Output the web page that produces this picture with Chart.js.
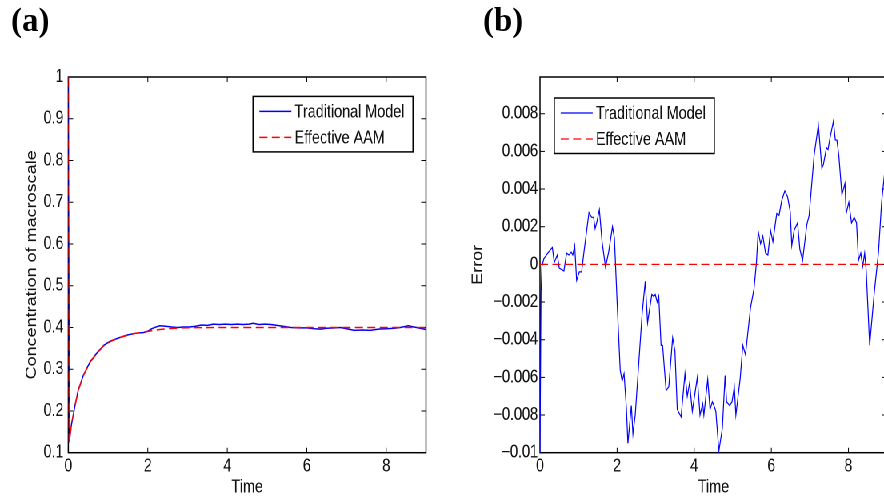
<!DOCTYPE html>
<html>
<head>
<meta charset="utf-8">
<script src="https://cdn.jsdelivr.net/npm/chart.js@4.4.1/dist/chart.umd.min.js"></script>
<style>
html, body { margin: 0; padding: 0; background: #fff; overflow: hidden; width: 884px; height: 502px; }
#fig { position: absolute; left: 0; top: 0; width: 1130px; height: 502px; transform: scaleX(0.8); transform-origin: 0 0; }
#fig canvas { position: absolute; top: 0; }
.tag { position: absolute; top: 4px; font: bold 33px 'Liberation Serif', 'Times New Roman', serif; line-height: 32px; color: #000; }
</style>
</head>
<body>
<div id="fig">
  <canvas id="concChart" width="552" height="502" style="left:0px"></canvas>
  <canvas id="errChart" width="578" height="502" style="left:552px"></canvas>
</div>
<div class="tag" style="left:11px">(a)</div>
<div class="tag" style="left:483px">(b)</div>
<script>
// panel (a): concentration of macroscale vs time
var tradT = [0, 0.025, 0.08, 0.17, 0.25, 0.38, 0.55, 0.72, 0.89, 1.05, 1.27, 1.48, 1.69, 1.9, 2.0, 2.1, 2.2, 2.3,
  2.45, 2.6, 2.75, 2.9, 3.05, 3.2, 3.35, 3.5, 3.65, 3.8, 3.95, 4.1, 4.25, 4.4, 4.55, 4.65, 4.8, 4.95, 5.1, 5.25,
  5.4, 5.6, 5.8, 6.0, 6.2, 6.35, 6.5, 6.7, 6.85, 7.0, 7.2, 7.4, 7.6, 7.8, 8.0, 8.2, 8.35, 8.5, 8.55, 8.7, 8.85, 9.0];
var tradC = [1, 0.126, 0.168, 0.214, 0.25, 0.286, 0.318, 0.339, 0.357, 0.367, 0.375, 0.382, 0.386, 0.388, 0.391, 0.397, 0.401, 0.404,
  0.403, 0.401, 0.400, 0.401, 0.401, 0.403, 0.406, 0.405, 0.408, 0.407, 0.408, 0.407, 0.408, 0.407, 0.408, 0.410, 0.407, 0.408, 0.407, 0.405,
  0.403, 0.400, 0.399, 0.399, 0.397, 0.396, 0.398, 0.399, 0.400, 0.397, 0.393, 0.394, 0.393, 0.396, 0.397, 0.398, 0.400, 0.403, 0.404, 0.401, 0.398, 0.395];
var aamT = [0, 0.02, 0.08, 0.17, 0.25, 0.38, 0.55, 0.72, 0.89, 1.05, 1.27, 1.48, 1.69, 1.9, 2.1, 2.3, 2.5, 2.8, 3.2, 4, 5, 6, 7, 8, 9];
var aamC = [1, 0.125, 0.168, 0.213, 0.249, 0.285, 0.317, 0.338, 0.356, 0.366, 0.375, 0.381, 0.386, 0.389, 0.392, 0.395, 0.397, 0.399, 0.3995, 0.4, 0.4, 0.4, 0.4, 0.4, 0.4];

// panel (b): error vs time
var errT = [0, 0.026, 0.05, 0.1, 0.22, 0.32, 0.37, 0.45, 0.5, 0.62, 0.69, 0.75, 0.81, 0.85, 0.9, 0.95, 1.02, 1.08, 1.14,
  1.27, 1.34, 1.39, 1.43, 1.48, 1.54, 1.61, 1.7, 1.78, 1.88, 1.93, 2.0, 2.08, 2.13, 2.18, 2.24, 2.28, 2.37, 2.41, 2.47,
  2.65, 2.73, 2.79, 2.9, 2.95, 2.99, 3.04, 3.08, 3.14, 3.18, 3.27, 3.34, 3.44, 3.5, 3.56, 3.66, 3.76, 3.82, 3.88, 3.95,
  4.08, 4.15, 4.22, 4.25, 4.35, 4.41, 4.47, 4.53, 4.56, 4.64, 4.73, 4.8, 4.84, 4.92, 4.98, 5.04, 5.08, 5.19, 5.26, 5.33,
  5.46, 5.55, 5.61, 5.66, 5.72, 5.78, 5.85, 5.91, 5.98, 6.04, 6.14, 6.2, 6.27, 6.35, 6.42, 6.49, 6.53, 6.59, 6.68, 6.74,
  6.81, 6.92, 6.98, 7.11, 7.22, 7.31, 7.35, 7.43, 7.47, 7.52, 7.61, 7.66, 7.7, 7.75, 7.83, 7.91, 7.94, 8.01, 8.08, 8.15,
  8.21, 8.26, 8.32, 8.37, 8.42, 8.46, 8.55, 8.67, 8.78, 8.86, 8.95, 9.0];
var errV = [-0.0100, -0.0015, -0.0001, 0.0003, 0.00065, 0.0009, 0.0001, 0.0005, -0.0002, -0.00035, 0.0006, 0.0005, 0.00065, 0.0005, 0.001, -0.00085, -0.0004, -0.0004, 0.00065,
  0.00275, 0.0025, 0.0025, 0.0019, 0.0023, 0.0029, 0.0012, -0.00015, 0.00065, 0.002, 0.0014, -0.002, -0.0056, -0.0062, -0.0058, -0.0076, -0.0095, -0.0075, -0.009, -0.008,
  -0.0026, -0.0009, -0.0031, -0.0016, -0.0017, -0.0016, -0.002, -0.0017, -0.0043, -0.0043, -0.0067, -0.0065, -0.0039, -0.0046, -0.0077, -0.0081, -0.0058, -0.007, -0.0063, -0.0078,
  -0.006, -0.008, -0.0074, -0.008, -0.0061, -0.0077, -0.0073, -0.0076, -0.0078, -0.0099, -0.0087, -0.0059, -0.0073, -0.0075, -0.0073, -0.0065, -0.008, -0.0061, -0.0043, -0.0048,
  -0.0023, -0.0013, 0.0, 0.00175, 0.0011, 0.0015, 0.0006, 0.0005, 0.0018, 0.0012, 0.0027, 0.0026, 0.0034, 0.0039, 0.0036, 0.0028, 0.001, 0.0018, 0.0022, 0.0008,
  0.0002, 0.0021, 0.0026, 0.0058, 0.0074, 0.0051, 0.0053, 0.0062, 0.0061, 0.0067, 0.0076, 0.0066, 0.0066, 0.0058, 0.0037, 0.0043, 0.0027, 0.0033, 0.0022, 0.0025,
  0.0022, 0.0002, 0.0006, -0.0001, 0.0006, -0.0003, -0.0043, -0.0015, 0.00065, 0.0033, 0.0051, 0.0056];
var zeroT = [0, 9];
var zeroV = [0, 0];

var seriesNames = ['Traditional Model', 'Effective AAM'];
var timeTicks = [0, 2, 4, 6, 8];
var timeTickLabels = ['0', '2', '4', '6', '8'];
var concTicks = [0.1, 0.2, 0.3, 0.4, 0.5, 0.6, 0.7, 0.8, 0.9, 1];
var concTickLabels = ['0.1', '0.2', '0.3', '0.4', '0.5', '0.6', '0.7', '0.8', '0.9', '1'];
var errTicks = [-0.01, -0.008, -0.006, -0.004, -0.002, 0, 0.002, 0.004, 0.006, 0.008];
var errTickLabels = ['\u22120.01', '\u22120.008', '\u22120.006', '\u22120.004', '\u22120.002', '0', '0.002', '0.004', '0.006', '0.008'];

var FONT = {family: "'Liberation Sans', Arial, sans-serif", size: 18};
var INK = '#111';

function pts(t, v) {
    return t.map(function (x, i) { return {x: x, y: v[i]}; });
}

function setTicks(values) {
    return function (scale) {
        scale.ticks = values.map(function (v) { return {value: v}; });
    };
}

// matlab style box with inward ticks + legend inside the axes
var framePlugin = {
    id: 'frame',
    beforeDatasetsDraw: function (chart) {
        var ctx = chart.ctx, a = chart.chartArea;
        var x = chart.scales.x, y = chart.scales.y;
        ctx.save();
        ctx.strokeStyle = '#000';
        ctx.lineWidth = 1.5;
        ctx.strokeRect(a.left, a.top, a.right - a.left, a.bottom - a.top);
        ctx.lineWidth = 1;
        ctx.beginPath();
        x.ticks.forEach(function (t) {
            var px = x.getPixelForValue(t.value);
            ctx.moveTo(px, a.bottom); ctx.lineTo(px, a.bottom - 5);
            ctx.moveTo(px, a.top); ctx.lineTo(px, a.top + 5);
        });
        y.ticks.forEach(function (t) {
            var py = y.getPixelForValue(t.value);
            ctx.moveTo(a.left, py); ctx.lineTo(a.left + 6, py);
            ctx.moveTo(a.right, py); ctx.lineTo(a.right - 6, py);
        });
        ctx.stroke();
        ctx.restore();
    },
    afterDraw: function (chart, args, opts) {
        var ctx = chart.ctx, a = chart.chartArea;
        var w = 200, h = 55.5;
        var bx = opts.side === 'right' ? a.right - opts.dx - w : a.left + opts.dx;
        var by = a.top + opts.dy;
        ctx.save();
        ctx.fillStyle = '#fff';
        ctx.fillRect(bx, by, w, h);
        ctx.strokeStyle = '#000';
        ctx.lineWidth = 1.5;
        ctx.strokeRect(bx, by, w, h);
        ctx.font = FONT.size + 'px ' + FONT.family;
        ctx.textBaseline = 'middle';
        ctx.textAlign = 'left';
        chart.data.datasets.forEach(function (ds, i) {
            var ly = by + 15 + i * 26;
            ctx.strokeStyle = ds.borderColor;
            ctx.lineWidth = ds.borderWidth;
            ctx.setLineDash(ds.borderDash || []);
            ctx.beginPath();
            ctx.moveTo(bx + 8, ly);
            ctx.lineTo(bx + 48, ly);
            ctx.stroke();
            ctx.setLineDash([]);
            ctx.fillStyle = INK;
            ctx.fillText(ds.label, bx + 52, ly + 1);
        });
        ctx.restore();
    }
};

function makeChart(id, datasets, yCfg, frameOpts, yWidth, padRight, yTitlePad) {
    return new Chart(document.getElementById(id), {
        type: 'line',
        data: {datasets: datasets},
        plugins: [framePlugin],
        options: {
            responsive: false,
            animation: false,
            devicePixelRatio: 2,
            layout: {padding: {top: 77, right: padRight, bottom: 0, left: 0}},
            elements: {point: {radius: 0}, line: {tension: 0}},
            plugins: {legend: {display: false}, tooltip: {enabled: false}, frame: frameOpts},
            scales: {
                x: {
                    type: 'linear', min: 0, max: 9,
                    afterBuildTicks: setTicks(timeTicks),
                    afterFit: function (s) { s.height = 49.3; },
                    grid: {display: false, drawTicks: false},
                    border: {display: false},
                    ticks: {
                        font: FONT, color: INK, padding: 3, maxRotation: 0, autoSkip: false,
                        callback: function (v, i) { return timeTickLabels[i]; }
                    },
                    title: {display: true, text: 'Time', font: FONT, color: INK, padding: {top: 0, bottom: 3.5}}
                },
                y: {
                    type: 'linear', min: yCfg.min, max: yCfg.max,
                    afterBuildTicks: setTicks(yCfg.ticks),
                    afterFit: function (s) { s.width = yWidth; },
                    grid: {display: false, drawTicks: false},
                    border: {display: false},
                    ticks: {
                        font: FONT, color: INK, padding: yCfg.pad, autoSkip: false,
                        callback: function (v, i) { return yCfg.labels[i]; }
                    },
                    title: {display: true, text: yCfg.title, font: FONT, color: INK, padding: {top: yTitlePad, bottom: 0}}
                }
            }
        }
    });
}

makeChart('concChart', [
    {label: seriesNames[0], data: pts(tradT, tradC), borderColor: '#0000ff', borderWidth: 1.5, order: 2},
    {label: seriesNames[1], data: pts(aamT, aamC), borderColor: '#ff0000', borderWidth: 1.5, borderDash: [10, 5.5], order: 1}
], {min: 0.1, max: 1, ticks: concTicks, labels: concTickLabels, title: 'Concentration of macroscale', pad: 6},
   {side: 'right', dx: 16.25, dy: 19.4}, 85.4, 19.5, 29.2);

makeChart('errChart', [
    {label: seriesNames[0], data: pts(errT, errV), borderColor: '#0000ff', borderWidth: 1.2, order: 2},
    {label: seriesNames[1], data: pts(zeroT, zeroV), borderColor: '#ff0000', borderWidth: 1.2, borderDash: [10, 5.5], order: 1}
], {min: -0.01, max: 0.00995, ticks: errTicks, labels: errTickLabels, title: 'Error', pad: 2.5},
   {side: 'left', dx: 17.9, dy: 21}, 123, 21.25, 34.7);
</script>
</body>
</html>
